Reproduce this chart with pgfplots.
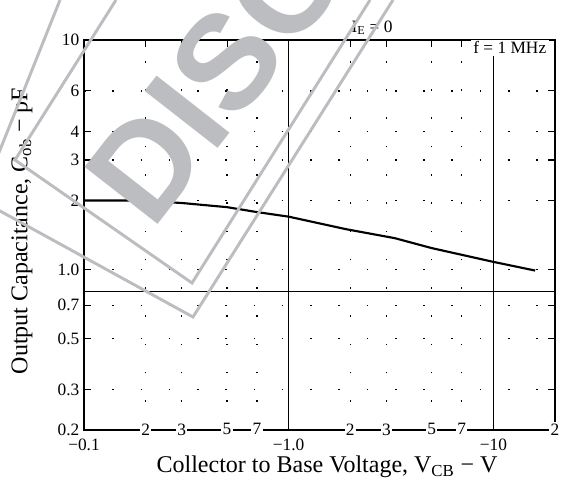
\documentclass[border=0pt]{standalone}
\usepackage{fontspec}
\setmainfont{Liberation Serif}
\newfontfamily\wmfont{Liberation Sans}
\usepackage{pgfplots}
\pgfplotsset{compat=1.18}
\definecolor{wm}{RGB}{188,189,193}
\begin{document}
\begin{tikzpicture}
\begin{axis}[
  scale only axis, width=353.25pt, height=292.5pt,
  xmode=log, ymode=log, xmin=0.1, xmax=20, ymin=0.2, ymax=10,
  axis line style={black, line width=1pt},
  xminorticks=false, yminorticks=false,
  tick style={black, line width=0.8pt}, major tick length=5pt, tick align=inside,
  xtick={0.1,1,10}, xticklabels={−0.1,−1.0,−10},
  xticklabel style={font=\fontsize{13}{15}\selectfont, yshift=-3pt},
  xmajorgrids, major x grid style={black, line width=1pt},
  extra x ticks={0.2,0.3,0.5,0.7,2,3,5,7,20},
  extra x tick labels={2,3,5,7,2,3,5,7,2},
  extra x tick style={xmajorgrids=true, major x grid style={black, line width=0.9pt, dash pattern=on 1.2pt off 20pt},
    xticklabel style={yshift=9pt, fill=white, inner sep=1pt}},
  ytick={0.2,0.3,0.5,0.7,1,2,3,4,6,10},
  yticklabels={0.2,0.3,0.5,0.7,1.0,2,3,4,6,10},
  yticklabel style={font=\fontsize{13}{15}\selectfont},
  ymajorgrids, major y grid style={black, line width=0.9pt, dash pattern=on 1.2pt off 20pt},
  xlabel={Collector to Base Voltage, V\textsubscript{CB} − V},
  ylabel={Output Capacitance, C\textsubscript{ob} − pF},
  xlabel style={at={(axis description cs:0.516,-0.0949)}, anchor=center, font=\fontsize{18}{21}\selectfont},
  ylabel style={at={(axis description cs:-0.1316,0.51)}, anchor=center, font=\fontsize{18}{21}\selectfont},
]
\addplot[black, line width=1pt] coordinates {(0.1,0.8) (20,0.8)};
\addplot[black, line width=1.6pt] coordinates {
  (0.1,2.0) (0.18,2.0) (0.3,1.95) (0.5,1.87) (0.7,1.78) (1,1.70)
  (1.9,1.50) (3.3,1.37) (5,1.24) (10,1.08) (16,0.99)};
\node[fill=white, inner sep=2pt, font=\fontsize{13}{15}\selectfont] at (rel axis cs:0.904,0.982) {f = 1 MHz};
\end{axis}
\begin{scope}[shift={(current axis.south west)}, x=0.75pt, y=-0.75pt, shift={(-84,-430)}]
  \node[font=\fontsize{13}{15}\selectfont] at (372,28) {I\textsubscript{E} = 0};
  % watermark
  \node[rotate=52, anchor=base west, text=wm, font=\wmfont\bfseries\fontsize{101}{110}\selectfont, inner sep=0pt]
    at (152,232) {DISCONTINUED};
  \draw[wm, line width=2.2pt, line join=miter]
    (116,0) -- (15,160) -- (192,283) -- (370,0);
  \draw[wm, line width=2.2pt, line join=miter]
    (60,0) -- (-20,200) -- (193,317) -- (393,0);
  \pgfresetboundingbox
  \path (0,0) rectangle (561,480);
\end{scope}
\end{tikzpicture}
\end{document}
